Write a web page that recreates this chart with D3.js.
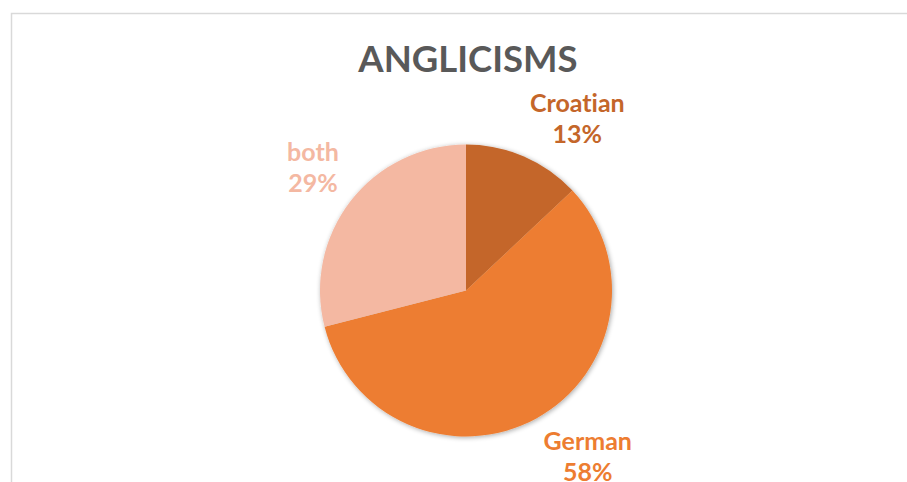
<!DOCTYPE html>
<html>
<head>
<meta charset="utf-8">
<script src="https://cdn.jsdelivr.net/npm/d3@7"></script>
<style>
  html, body { margin: 0; padding: 0; background: #fff; }
  svg { display: block; }
  text { font-family: Lato, "Open Sans", sans-serif; font-weight: bold; font-variant-ligatures: none; }
</style>
</head>
<body>
<svg id="chart" width="907" height="482"></svg>
<script>
// 数据
const categories = ['Croatian', 'German', 'both'];
const values = [13, 58, 29];
const colors = ['#C4662A', '#ED7D31', '#F4B8A2'];
const title = 'ANGLICISMS';

const width = 907, height = 482;
const svg = d3.select('#chart');

// 外框 (只有上边和左边可见)
svg.append('path')
    .attr('d', d3.line()([[11.5, height], [11.5, 13.5], [width, 13.5]]))
    .attr('fill', 'none')
    .attr('stroke', '#D9D9D9')
    .attr('stroke-width', 1.5);

// 标题
svg.append('text')
    .attr('x', 468)
    .attr('y', 72)
    .attr('text-anchor', 'middle')
    .attr('fill', '#595959')
    .attr('font-size', 36.5)
    .text(title);

// 阴影
const defs = svg.append('defs');
const filter = defs.append('filter')
    .attr('id', 'shadow')
    .attr('x', '-20%').attr('y', '-20%')
    .attr('width', '140%').attr('height', '140%');
filter.append('feGaussianBlur')
    .attr('in', 'SourceAlpha')
    .attr('stdDeviation', 2.5)
    .attr('result', 'blur');
filter.append('feOffset').attr('in', 'blur').attr('dx', 0.5).attr('dy', 0.5).attr('result', 'off');
filter.append('feComponentTransfer').attr('in', 'off').attr('result', 'soft')
    .append('feFuncA').attr('type', 'linear').attr('slope', 0.35);
const merge = filter.append('feMerge');
merge.append('feMergeNode').attr('in', 'soft');
merge.append('feMergeNode').attr('in', 'SourceGraphic');

const cx = 466, cy = 290.5, radius = 146;

const pie = d3.pie().sort(null).value(d => d.value);
const arcs = pie(categories.map((c, i) => ({ name: c, value: values[i], color: colors[i] })));
const arc = d3.arc().innerRadius(0).outerRadius(radius);

const g = svg.append('g').attr('transform', `translate(${[cx, cy]})`);

g.append('g')
    .attr('filter', 'url(#shadow)')
    .selectAll('path')
    .data(arcs)
    .join('path')
    .attr('d', arc)
    .attr('fill', d => d.data.color);

// 标签：最近的角贴在 outer end 锚点上
const labelR = radius + 15;
const total = d3.sum(values);
const lineGap = 31;
g.selectAll('.label')
    .data(arcs)
    .join('text')
    .attr('class', 'label')
    .attr('text-anchor', 'middle')
    .attr('font-size', 25)
    .attr('fill', d => d.data.color)
    .each(function (d) {
        const t = d3.select(this);
        t.append('tspan').attr('x', 0).attr('y', 0).text(d.data.name);
        t.append('tspan').attr('x', 0).attr('y', lineGap)
            .text(Math.round(d.data.value / total * 100) + '%');
        const mid = (d.startAngle + d.endAngle) / 2;
        const ax = labelR * Math.sin(mid), ay = -labelR * Math.cos(mid);
        const w = this.getBBox().width;
        const capH = 18;
        const h = capH + lineGap;
        // 方框中心
        const bx = ax + Math.sign(Math.sin(mid)) * w / 2;
        const by = ay - Math.sign(Math.cos(mid)) * h / 2;
        t.attr('transform', `translate(${[bx, by - h / 2 + capH]})`);
    });
</script>
</body>
</html>
